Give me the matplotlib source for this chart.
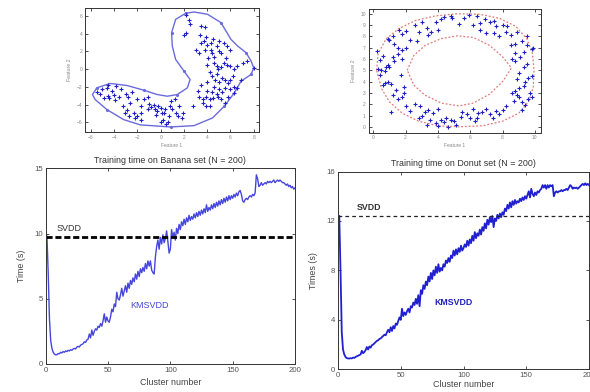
import matplotlib
matplotlib.use("Agg")
import matplotlib.pyplot as plt
import numpy as np

plt.rcParams['font.family'] = ['Liberation Sans', 'DejaVu Sans']

# ---------------- data ----------------
banana_x = [-5.0, -4.5, -4.2, -3.8, -5.2, -4.9, -4.5, -4.4, -3.6, -3.0, -5.5,
            -3.2, -2.9, -2.6, -2.3, -2.0, -1.7, -1.4, -1.1, -2.0,
            -1.7, -1.1, -0.8, -0.5, -0.2, 0.1, 0.4, 0.7, 1.0, 1.3, 1.6, 1.9, 1.5, 0.2, 0.5, 0.6, 1.8,
            -3.1, -2.7, -2.2, -1.7,
            -0.6, -0.3, 0.0, 0.3, 0.8, -3.9, -4.0, -3.4, -2.5, -1.0, 0.9, 1.2, -0.4, 0.0, -4.6, -2.8,
            2.2, 2.4, 2.5, 3.5, 3.8, 2.2, 2.0,
            3.4, 3.5, 3.7, 4.0, 4.3, 3.8, 4.3, 3.0, 3.3, 4.4, 4.8, 5.4, 5.7, 6.0, 5.2,
            4.6, 4.8, 4.0, 4.9, 5.4, 5.7, 6.0, 6.3, 6.6, 7.1, 7.4, 8.0,
            4.4, 4.7, 5.0, 5.3, 5.5, 5.8, 6.0, 6.3, 6.6, 6.9, 4.6, 5.0, 5.5, 6.0, 6.3,
            3.3, 3.6, 3.9, 4.2, 4.5, 4.9, 5.2, 5.5, 3.9, 3.6, 4.2,
            2.8, 5.8,
            4.1, 4.6, 5.0, 5.6, 4.2, 4.8, 5.2, 6.2, 4.4, 4.8, 5.3, 4.0, 3.9, 4.5, 5.0, 3.2, 4.0, 3.5]
banana_y = [-2.2, -1.8, -2.5, -1.9, -2.8, -3.3, -3.0, -3.3, -3.2, -2.8, -2.6,
            -4.2, -4.6, -3.8, -4.9, -5.3, -4.2, -3.4, -3.1, -3.4,
            -4.9, -4.5, -4.3, -4.5, -4.2, -4.9, -4.5, -5.3, -4.5, -4.9, -4.2, -4.9, -5.3, -5.7, -6.2, -6.0, -5.5,
            -4.9, -5.3, -5.5, -5.7,
            -4.0, -4.7, -4.4, -5.0, -4.2, -3.5, -2.9, -2.2, -2.6, -3.9, -3.6, -3.4, -5.2, -6.0, -2.1, -3.1,
            6.1, 5.5, 5.1, 4.9, 4.7, 4.1, 3.8,
            3.8, 3.0, 3.2, 2.7, 3.0, 2.2, 2.2, 2.2, 1.8, 1.8, 2.6, 3.0, 2.6, 2.2, 1.8,
            0.7, 0.3, 0.5, 0.0, 0.7, 0.5, 0.3, 0.0, 0.3, 0.7, 0.9, 0.1,
            -0.8, -1.2, -1.4, -1.0, -1.2, -1.6, -1.2, -2.0, -2.1, -1.2, -2.0, -2.3, -2.1, -2.3, -2.7,
            -3.1, -3.4, -3.1, -3.4, -3.3, -3.1, -3.4, -3.8, -4.2, -3.8, -4.2,
            -4.2, -3.1,
            1.2, 1.4, 2.0, 1.2, -0.3, -0.5, 0.2, -0.8, -2.6, -2.8, -2.6, -1.5, 3.6, 3.4, 3.2, -2.5, -2.5, -1.8]

banana_bx = [2.15, 2.87, 4.03, 5.18, 6.04, 6.62, 7.34, 7.77, 8.00, 7.77, 6.91, 6.33, 5.47, 4.46,
             2.87, 0.86, -1.74, -3.18, -4.62, -5.63, -5.86, -5.48, -4.33, -2.89, -1.45, -0.30,
             0.57, 1.43, 2.30, 2.53, 2.01, 1.29, 1.00, 0.94, 1.29, 2.15]
banana_by = [6.30, 6.45, 6.19, 5.25, 3.36, 2.60, 1.85, 0.91, 0.15, -0.60, -1.36, -2.68, -4.19, -5.51,
             -6.38, -6.53, -6.30, -5.70, -4.57, -3.43, -2.87, -2.11, -1.62, -1.85, -2.38, -2.87,
             -3.06, -2.87, -2.11, -1.17, -0.23, 1.09, 2.60, 4.11, 5.62, 6.30]

donut_x = [1.6, 1.8, 2.0, 2.6, 2.8, 3.0, 3.3, 3.6, 3.9, 4.2, 4.4, 4.8, 4.9, 5.3, 5.6, 5.9, 6.2, 6.4, 6.6,
           6.9, 7.2, 7.6, 7.5, 8.0, 8.3, 2.3, 2.7, 3.4, 4.0, 6.6, 7.0, 7.8, 8.2, 8.5, 1.2, 1.0, 0.9, 1.3,
           1.5, 1.8, 2.0, 7.5, 8.9, 9.2, 8.8, 8.5, 9.5,
           0.2, 0.6, 0.3, 0.5, 0.8, 0.9, 1.0, 0.7, 0.4, 0.9, 1.1, 0.7, 0.6, 1.4, 1.2, 1.5, 1.8, 1.1, 1.2,
           1.5, 1.8, 1.3, 1.7, 1.9, 1.9, 0.4,
           2.0, 2.3, 2.8, 3.0, 3.2, 3.4, 3.5, 3.7, 3.9, 4.0, 4.2, 4.4, 4.5, 4.8, 5.1, 5.4, 5.5, 5.8, 6.0,
           6.3, 6.4, 6.5, 6.7, 7.0, 7.2, 7.4, 7.6, 7.8, 8.0, 8.2, 2.6, 2.9, 4.0, 6.2, 5.0, 4.6, 3.3,
           8.7, 8.9, 8.8, 9.0, 9.2, 9.4, 9.6, 9.7, 9.3, 9.4, 9.6, 9.8, 9.0, 9.3, 9.5, 8.8, 9.1, 8.8, 9.3,
           9.8, 9.9, 9.5, 8.6, 8.9, 9.2, 9.8, 8.6, 9.0]
donut_y = [8.6, 8.2, 8.5, 9.0, 8.4, 9.3, 8.7, 8.4, 9.3, 9.5, 9.7, 9.8, 9.6, 9.1, 9.6, 9.9, 9.0, 9.8, 9.2,
           9.5, 9.3, 8.9, 9.4, 9.0, 8.9, 7.7, 7.6, 8.1, 8.6, 8.6, 8.3, 8.0, 8.4, 8.1, 8.0, 7.7, 7.8, 7.3,
           7.0, 6.8, 7.0, 8.3, 8.4, 7.6, 7.3, 7.2, 8.0,
           6.7, 6.3, 5.1, 5.0, 5.3, 5.5, 5.3, 4.9, 4.6, 4.0, 3.8, 3.9, 3.7, 3.3, 2.8, 2.5, 2.6, 1.3, 6.2,
           6.4, 6.0, 5.8, 4.6, 3.5, 3.0, 5.9,
           1.8, 1.4, 0.8, 1.0, 1.3, 1.5, 0.6, 1.2, 0.3, 0.1, 0.6, 0.4, 0.8, 0.6, 0.2, 0.9, 1.3, 1.1, 0.8,
           0.5, 0.8, 1.2, 1.3, 1.6, 1.1, 0.8, 1.4, 1.1, 1.5, 1.8, 2.0, 1.8, 1.6, 1.6, 0.5, 0.0, 0.2,
           2.3, 2.8, 3.2, 2.6, 2.2, 1.9, 2.5, 3.0, 3.6, 4.0, 4.3, 4.5, 4.8, 5.3, 5.6, 5.8, 6.2, 6.5, 6.6,
           6.9, 7.0, 7.2, 6.0, 4.2, 1.5, 2.6, 3.0, 3.4]

outer_x = [0.2, 0.3, 0.8, 1.6, 2.6, 3.8, 5.2, 6.6, 7.8, 8.8, 9.5, 9.85, 9.95, 9.9, 9.6, 9.0, 8.0,
           6.8, 5.3, 4.0, 2.8, 1.8, 1.0, 0.5, 0.2]
outer_y = [5.0, 6.5, 7.8, 8.7, 9.4, 9.8, 10.0, 9.95, 9.6, 8.9, 7.8, 6.5, 5.0, 3.5, 2.2, 1.2, 0.5,
           0.1, 0.0, 0.1, 0.5, 1.2, 2.2, 3.4, 5.0]
inner_x = [2.1, 2.5, 3.2, 4.2, 5.2, 6.2, 7.2, 8.0, 8.55, 8.0, 7.2, 6.2, 5.3, 4.2, 3.2, 2.5, 2.1]
inner_y = [5.0, 6.3, 7.2, 7.8, 8.05, 7.9, 7.2, 6.2, 5.2, 4.0, 2.9, 2.1, 1.85, 2.1, 2.8, 3.7, 5.0]

cluster_number = list(range(1, 201))
banana_time = [9.8, 7.0, 3.5, 1.8, 1.2, 0.9, 0.75, 0.7, 0.72, 0.8,
               0.78, 0.9, 0.85, 0.95, 0.9, 1.0, 0.95, 1.05, 1.0, 1.1,
               1.05, 1.15, 1.2, 1.15, 1.3, 1.35, 1.3, 1.45, 1.5, 1.55,
               1.7, 1.65, 1.85, 1.9, 2.3, 2.0, 2.6, 2.2, 2.5, 2.7,
               2.6, 2.9, 2.8, 3.1, 2.9, 3.3, 3.85, 3.2, 3.6, 3.3,
               3.2, 3.6, 4.2, 4.0, 4.6, 4.4, 5.5, 5.0, 4.9, 5.3,
               5.8, 5.2, 5.6, 6.0, 5.5, 6.2, 5.8, 6.4, 6.1, 6.6,
               6.3, 6.9, 6.5, 7.1, 6.7, 7.3, 7.0, 7.4, 7.1, 7.7,
               7.3, 7.9, 7.5, 7.9, 7.2, 7.0, 6.9, 8.2, 9.0, 9.5,
               8.8, 9.7, 9.2, 9.9, 9.3, 9.6, 10.2, 9.4, 8.5, 8.8,
               10.3, 9.7, 10.1, 9.5, 10.4, 10.0, 10.7, 10.3, 10.9, 10.6,
               11.1, 10.7, 11.2, 10.9, 11.4, 11.0, 11.3, 11.1, 11.5, 11.2,
               11.6, 11.3, 11.7, 11.4, 11.8, 11.5, 11.9, 11.6, 12.2, 11.7,
               12.0, 11.8, 12.2, 11.9, 12.3, 12.0, 12.4, 12.1, 12.5, 12.2,
               12.6, 12.3, 12.7, 12.4, 12.8, 12.5, 12.9, 12.6, 12.9, 12.7,
               13.0, 12.8, 13.1, 12.9, 13.2, 13.3, 13.0, 12.5, 12.4, 12.6,
               12.7, 12.6, 12.8, 12.9, 12.8, 13.0, 12.9, 13.1, 14.5, 14.2,
               13.6, 13.7, 13.9, 13.7, 13.8, 13.9, 13.8, 14.0, 13.9, 14.0,
               13.9, 14.0, 14.1, 13.9, 14.0, 14.1, 14.0, 14.1, 14.0, 13.9,
               13.9, 13.8, 13.7, 13.8, 13.6, 13.7, 13.5, 13.6, 13.4, 13.5]
donut_time = [12.4, 8.0, 3.0, 1.6, 1.2, 1.0, 0.9, 0.88, 0.87, 0.9,
              0.88, 0.95, 0.92, 1.0, 1.05, 1.1, 1.15, 1.2, 1.5, 1.3,
              1.4, 1.55, 1.8, 1.6, 1.85, 1.75, 1.95, 2.0, 2.1, 2.2,
              2.3, 2.35, 2.45, 2.5, 2.6, 2.7, 2.8, 2.75, 3.0, 3.2,
              3.0, 3.4, 3.1, 3.5, 3.3, 3.7, 3.6, 3.9, 4.2, 4.0,
              4.9, 4.3, 4.6, 4.4, 4.7, 4.9, 4.6, 5.1, 5.0, 5.4,
              5.2, 5.7, 5.3, 6.0, 5.1, 6.4, 6.1, 6.8, 6.5, 7.1,
              6.8, 7.5, 7.1, 7.8, 7.3, 8.0, 7.6, 8.3, 7.8, 8.5,
              7.9, 8.2, 8.0, 8.5, 8.3, 8.8, 8.6, 9.0, 8.7, 9.2,
              9.0, 9.6, 9.2, 9.7, 9.3, 9.8, 9.5, 10.0, 9.6, 9.8,
              10.1, 9.9, 10.4, 10.0, 10.5, 10.2, 10.8, 10.4, 11.1, 10.6,
              11.0, 10.8, 11.3, 10.9, 11.5, 11.2, 11.8, 11.4, 12.1, 11.7,
              12.3, 11.9, 12.4, 11.5, 12.2, 12.0, 12.5, 12.2, 12.6, 12.3,
              12.7, 12.5, 13.0, 12.8, 13.3, 13.0, 13.5, 13.1, 13.6, 13.3,
              13.7, 13.4, 13.6, 13.5, 13.8, 13.6, 13.9, 13.7, 14.0, 13.8,
              14.1, 14.4, 13.9, 14.6, 14.2, 14.0, 14.3, 14.1, 14.4, 14.3,
              14.5, 14.6, 14.9, 14.7, 14.9, 14.6, 14.9, 14.7, 14.9, 14.8,
              14.9, 14.0, 14.3, 14.4, 14.3, 14.4, 14.4, 14.5, 14.4, 14.5,
              14.5, 14.6, 14.5, 14.7, 14.9, 14.8, 14.6, 14.7, 14.65, 14.7,
              14.6, 14.7, 14.8, 14.9, 15.0, 14.9, 15.05, 14.9, 15.0, 14.9]
svdd_banana = 9.75
svdd_donut = 12.4

# ---------------- figure ----------------
W, H = 590, 392
fig = plt.figure(figsize=(W / 100, H / 100), dpi=100)


def px_axes(l, t, r, b):
    return fig.add_axes([l / W, 1 - b / H, (r - l) / W, (b - t) / H])


def style(ax, size, color):
    ax.tick_params(direction='in', top=True, right=True, labelsize=size,
                   colors='#333333', labelcolor=color, length=2.5, width=0.6, pad=2)
    for s in ax.spines.values():
        s.set_linewidth(0.7)
        s.set_color('#333333')


# top-left: banana scatter
ax1 = px_axes(85, 8, 259, 132)
ax1.plot(banana_bx, banana_by, color='#6b6bdc', lw=1.0, marker='.', ms=2.5, markevery=3)
ax1.plot(banana_x, banana_y, ls='none', marker='+', ms=2.4, mew=0.8, color='#1f1fc8')
ax1.set_xlim(-6.5, 8.45)
ax1.set_ylim(-7.1, 6.9)
ax1.set_xticks(range(-6, 9, 2))
ax1.set_yticks(range(-6, 7, 2))
style(ax1, 3.5, '#888888')
ax1.set_xlabel('Feature 1', fontsize=3.5, color='#888888', labelpad=2)
ax1.set_ylabel('Feature 2', fontsize=3.8, color='#888888', labelpad=3)

# top-right: donut scatter
ax2 = px_axes(368.5, 9, 540.5, 132.5)
ax2.plot(outer_x, outer_y, color='#e07a7a', lw=0.9, ls=(0, (1.5, 1.5)))
ax2.plot(inner_x, inner_y, color='#e07a7a', lw=0.9, ls=(0, (1.5, 1.5)))
ax2.plot(donut_x, donut_y, ls='none', marker='+', ms=2.4, mew=0.8, color='#1f1fc8')
ax2.set_xlim(-0.3, 10.35)
ax2.set_ylim(-0.5, 10.42)
ax2.set_xticks(range(0, 11, 2))
ax2.set_yticks(range(0, 11, 1))
style(ax2, 3.5, '#888888')
ax2.set_xlabel('Feature 1', fontsize=3.5, color='#888888', labelpad=2)
ax2.set_ylabel('Feature 2', fontsize=3.8, color='#888888', labelpad=3)

# bottom-left: banana timing
ax3 = px_axes(45.7, 168.3, 295, 364)
ax3.plot(cluster_number, banana_time, color='#4646dc', lw=1.0)
ax3.axhline(svdd_banana, color='black', lw=2.0, dashes=[2.2, 1.0])
ax3.text(8.8, 10.35, 'SVDD', fontsize=6.5, color='#333333', va='center')
ax3.text(67.6, 4.5, 'KMSVDD', fontsize=6.5, color='#4646dc', va='center')
ax3.set_xlim(0, 200)
ax3.set_ylim(0, 15)
ax3.set_xticks([0, 50, 100, 150, 200])
ax3.set_yticks([0, 5, 10, 15])
style(ax3, 5.6, '#555555')
ax3.set_title('Training time on Banana set (N = 200)', fontsize=6.4, color='#333333', pad=4)
ax3.set_xlabel('Cluster number', fontsize=6.4, color='#444444', labelpad=3)
ax3.set_ylabel('Time (s)', fontsize=6.4, color='#444444', labelpad=6)

# bottom-right: donut timing
ax4 = px_axes(338, 171.5, 589, 369.3)
ax4.plot(cluster_number, donut_time, color='#2020d0', lw=1.3)
ax4.axhline(svdd_donut, color='#222222', lw=0.9, dashes=[3, 2.5])
ax4.text(14.9, 13.1, 'SVDD', fontsize=6.3, color='#333333', weight='bold', va='center')
ax4.text(76.8, 5.4, 'KMSVDD', fontsize=6.3, color='#2020c0', weight='bold', va='center')
ax4.set_xlim(0, 200)
ax4.set_ylim(0, 16)
ax4.set_xticks([0, 50, 100, 150, 200])
ax4.set_yticks([0, 4, 8, 12, 16])
style(ax4, 5.6, '#555555')
ax4.set_title('Training time on Donut set (N = 200)', fontsize=6.4, color='#333333', pad=4)
ax4.set_xlabel('Cluster number', fontsize=6.4, color='#444444', labelpad=1)
ax4.set_ylabel('Times (s)', fontsize=6.4, color='#444444', labelpad=6)

fig.savefig('out.png', dpi=100)
